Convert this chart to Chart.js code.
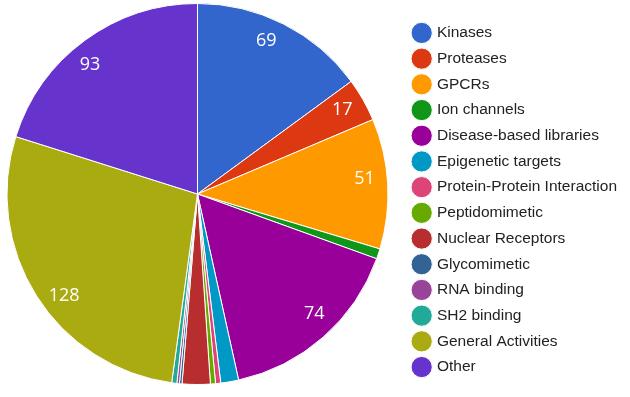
<!DOCTYPE html>
<html>
<head>
<meta charset="utf-8">
<script src="https://cdn.jsdelivr.net/npm/chart.js@4.4.1/dist/chart.umd.min.js"></script>
<style>
  html, body { margin: 0; padding: 0; background: #ffffff; }
  #wrap { width: 630px; height: 397px; position: relative; }
</style>
</head>
<body>
<div id="wrap"><canvas id="pieChart" width="630" height="397"></canvas></div>
<script>
const categories = ['Kinases', 'Proteases', 'GPCRs', 'Ion channels', 'Disease-based libraries',
    'Epigenetic targets', 'Protein-Protein Interaction', 'Peptidomimetic', 'Nuclear Receptors',
    'Glycomimetic', 'RNA binding', 'SH2 binding', 'General Activities', 'Other'];
const counts = [69, 17, 51, 4, 74, 7, 2, 2, 11, 1, 1, 2, 128, 93];
const colors = ['#3366cc', '#dc3912', '#ff9900', '#109618', '#990099', '#0099c6', '#dd4477',
    '#66aa00', '#b82e2e', '#316395', '#994499', '#22aa99', '#aaaa11', '#6633cc'];

// valeurs écrites dans les parts assez grandes
const sliceLabels = {
    id: 'sliceLabels',
    afterDatasetsDraw(chart) {
        const ctx = chart.ctx;
        const data = chart.data.datasets[0].data;
        const total = data.reduce((a, b) => a + b, 0);
        chart.getDatasetMeta(0).data.forEach((arc, i) => {
            if (data[i] / total < 0.03) return;
            const p = arc.getProps(['x', 'y', 'startAngle', 'endAngle', 'outerRadius'], true);
            const ang = p.startAngle + (p.endAngle - p.startAngle) * 0.45;
            const r = p.outerRadius * 0.88;
            ctx.save();
            ctx.fillStyle = '#ffffff';
            ctx.font = '18px "Open Sans", Arial, sans-serif';
            ctx.textAlign = 'center';
            ctx.textBaseline = 'middle';
            ctx.fillText(String(data[i]), p.x + Math.cos(ang) * r, p.y + Math.sin(ang) * r);
            ctx.restore();
        });
    }
};

// décale un peu le camembert vers la gauche
const shiftPie = {
    id: 'shiftPie',
    afterLayout(chart) {
        chart.chartArea.left -= 9;
    }
};

const ctx = document.getElementById('pieChart').getContext('2d');
const myPie = new Chart(ctx, {
    type: 'pie',
    data: {
        labels: categories,
        datasets: [{
            data: counts,
            backgroundColor: colors,
            borderColor: '#ffffff',
            borderWidth: 1
        }]
    },
    options: {
        responsive: false,
        animation: false,
        layout: { padding: { top: 3, bottom: 12, left: 0, right: 3 } },
        plugins: {
            legend: {
                position: 'right',
                align: 'center',
                // titre vide, sert juste à descendre la légende
                title: { display: true, text: ' ', font: { size: 1 }, padding: { top: 5.4, bottom: 5.4 } },
                labels: {
                    usePointStyle: true,
                    pointStyle: 'circle',
                    boxWidth: 15,
                    boxHeight: 15,
                    padding: 10.2,
                    color: '#222222',
                    font: { size: 15.5, family: 'Arial, "Liberation Sans", sans-serif' }
                }
            },
            tooltip: { enabled: false }
        }
    },
    plugins: [sliceLabels, shiftPie]
});
</script>
</body>
</html>
